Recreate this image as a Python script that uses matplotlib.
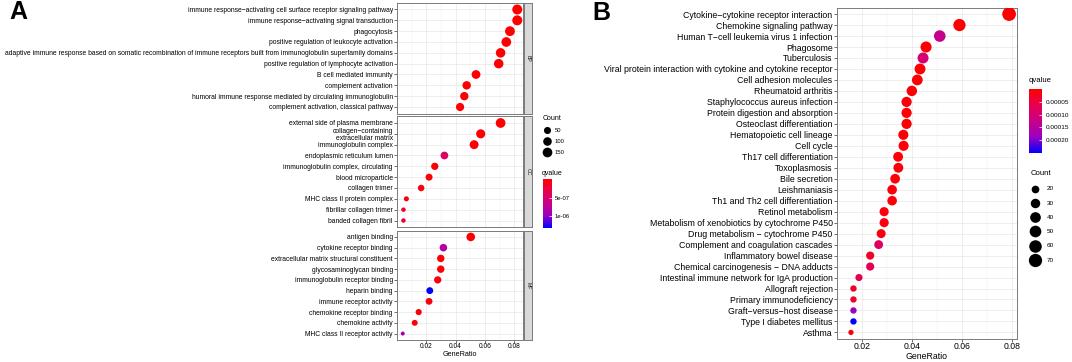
import numpy as np
import matplotlib
matplotlib.use('Agg')
import matplotlib.pyplot as plt
from matplotlib.colors import LinearSegmentedColormap, Normalize
from matplotlib.cm import ScalarMappable

plt.rcParams['font.family'] = ['Liberation Sans', 'DejaVu Sans']

# ---- Panel A: GO enrichment (BP / CC / MF) ----
bp_terms = ['immune response−activating cell surface receptor signaling pathway',
            'immune response−activating signal transduction',
            'phagocytosis',
            'positive regulation of leukocyte activation',
            'adaptive immune response based on somatic recombination of immune receptors built from immunoglobulin superfamily domains',
            'positive regulation of lymphocyte activation',
            'B cell mediated immunity',
            'complement activation',
            'humoral immune response mediated by circulating immunoglobulin',
            'complement activation, classical pathway']
bp_ratio = [0.0821, 0.0821, 0.0771, 0.0746, 0.0707, 0.0694, 0.0539, 0.0475, 0.0459, 0.0430]
bp_count = [165, 165, 155, 150, 142, 140, 108, 95, 92, 86]
bp_q = [1e-12, 1e-12, 2e-11, 5e-10, 3e-10, 4e-9, 8e-10, 1e-8, 3e-8, 2e-8]

cc_terms = ['external side of plasma membrane',
            'collagen−containing\nextracellular matrix',
            'immunoglobulin complex',
            'endoplasmic reticulum lumen',
            'immunoglobulin complex, circulating',
            'blood microparticle',
            'collagen trimer',
            'MHC class II protein complex',
            'fibrillar collagen trimer',
            'banded collagen fibril']
cc_ratio = [0.0707, 0.0571, 0.0526, 0.0323, 0.0257, 0.0218, 0.0164, 0.0063, 0.0043, 0.0043]
cc_count = [151, 122, 113, 69, 55, 47, 35, 13, 9, 9]
cc_q = [1e-10, 5e-9, 2e-8, 4.5e-7, 3e-8, 2e-8, 4e-8, 8e-8, 1.5e-7, 2e-7]

mf_terms = ['antigen binding',
            'cytokine receptor binding',
            'extracellular matrix structural constituent',
            'glycosaminoglycan binding',
            'immunoglobulin receptor binding',
            'heparin binding',
            'immune receptor activity',
            'chemokine receptor binding',
            'chemokine activity',
            'MHC class II receptor activity']
mf_ratio = [0.0503, 0.0316, 0.0298, 0.0298, 0.0277, 0.0223, 0.0218, 0.0147, 0.0120, 0.0038]
mf_count = [100, 63, 59, 59, 55, 44, 43, 29, 24, 8]
mf_q = [1e-10, 8e-7, 3e-8, 3e-8, 6e-8, 1.31e-6, 5e-8, 4e-8, 4e-8, 9.2e-7]

a_count_breaks = [50, 100, 150]
a_q_breaks = [5e-07, 1e-06]
a_q_labels = ['5e-07', '1e-06']

# ---- Panel B: KEGG enrichment ----
kegg_terms = ['Cytokine−cytokine receptor interaction',
              'Chemokine signaling pathway',
              'Human T−cell leukemia virus 1 infection',
              'Phagosome',
              'Tuberculosis',
              'Viral protein interaction with cytokine and cytokine receptor',
              'Cell adhesion molecules',
              'Rheumatoid arthritis',
              'Staphylococcus aureus infection',
              'Protein digestion and absorption',
              'Osteoclast differentiation',
              'Hematopoietic cell lineage',
              'Cell cycle',
              'Th17 cell differentiation',
              'Toxoplasmosis',
              'Bile secretion',
              'Leishmaniasis',
              'Th1 and Th2 cell differentiation',
              'Retinol metabolism',
              'Metabolism of xenobiotics by cytochrome P450',
              'Drug metabolism − cytochrome P450',
              'Complement and coagulation cascades',
              'Inflammatory bowel disease',
              'Chemical carcinogenesis − DNA adducts',
              'Intestinal immune network for IgA production',
              'Allograft rejection',
              'Primary immunodeficiency',
              'Graft−versus−host disease',
              'Type I diabetes mellitus',
              'Asthma']
kegg_ratio = [0.0790, 0.0591, 0.0512, 0.0457, 0.0445, 0.0433, 0.0422, 0.0400, 0.0379, 0.0379,
              0.0379, 0.0366, 0.0367, 0.0345, 0.0346, 0.0333, 0.0321, 0.0321, 0.0289, 0.0289,
              0.0277, 0.0267, 0.0233, 0.0233, 0.0188, 0.0166, 0.0166, 0.0166, 0.0166, 0.0156]
kegg_count = [76, 57, 49, 44, 43, 42, 41, 38, 36, 36,
              36, 35, 35, 33, 33, 32, 31, 31, 28, 28,
              27, 26, 22, 22, 18, 16, 16, 16, 16, 15]
kegg_q = [1e-12, 1e-9, 0.00013, 2e-6, 0.0001, 1e-6, 5e-6, 4e-6, 8e-6, 3e-6,
          2e-6, 5e-6, 6e-6, 3e-6, 7e-6, 5e-6, 8e-6, 6e-6, 9e-6, 1e-5,
          1.2e-5, 8e-5, 3e-5, 6.5e-5, 6e-5, 3e-5, 3.5e-5, 0.00018, 0.00025, 1e-5]
b_count_breaks = [20, 30, 40, 50, 60, 70]
b_q_breaks = [0.00005, 0.00010, 0.00015, 0.00020]
b_q_labels = ['0.00005', '0.00010', '0.00015', '0.00020']

W, H = 1072, 362
fig = plt.figure(figsize=(W / 100, H / 100), dpi=100)


def box(x0, y0, x1, y1):
    # pixel box (top-left origin) -> figure fraction rect
    return [x0 / W, 1 - y1 / H, (x1 - x0) / W, (y1 - y0) / H]


# red -> blue through Lab-like midtones (ggplot style)
cmap = LinearSegmentedColormap.from_list('rb', ['#FF0000', '#E7004F', '#C80088', '#9900C2', '#0000FF'])


def dot_size(c, cmin, cmax, dmin, dmax):
    c = np.asarray(c, dtype=float)
    d = dmin + np.sqrt(np.clip((c - cmin) / (cmax - cmin), 0, None)) * (dmax - dmin)
    return (d * 0.72) ** 2


def expand(vals):
    lo, hi = min(vals), max(vals)
    pad = (hi - lo) * 0.05
    return lo - pad, hi + pad


def dot_panel(ax, terms, ratio, count, q, norm, sizes, xlim, fs, tick_len):
    y = np.arange(1, len(terms) + 1)
    ax.set_axisbelow(True)
    ax.scatter(ratio, y, s=sizes, c=q, cmap=cmap, norm=norm, linewidths=0, zorder=3)
    ax.set_xlim(xlim)
    ax.set_ylim(len(terms) + 0.6, 0.4)
    ax.set_yticks(y)
    ax.set_yticklabels(terms, fontsize=fs, linespacing=0.95)
    ax.set_xticks([0.02, 0.04, 0.06, 0.08])
    ax.set_xticks([0.01, 0.03, 0.05, 0.07], minor=True)
    ax.grid(True, which='major', color='#EBEBEB', linewidth=0.6)
    ax.grid(True, which='minor', axis='x', color='#F2F2F2', linewidth=0.35)
    ax.tick_params(axis='both', which='major', length=tick_len, width=0.5, color='#333333', pad=1)
    ax.tick_params(axis='x', which='minor', length=0)
    for sp in ax.spines.values():
        sp.set_color('#7A7A7A')
        sp.set_linewidth(0.7)


# ---------------- Panel A ----------------
a_all_ratio = bp_ratio + cc_ratio + mf_ratio
a_all_count = bp_count + cc_count + mf_count
a_all_q = bp_q + cc_q + mf_q
a_xlim = expand(a_all_ratio)
a_norm = Normalize(vmin=0, vmax=max(a_all_q))
a_cmin, a_cmax = min(a_all_count), max(a_all_count)

a_panels = [('BP', bp_terms, bp_ratio, bp_count, bp_q, 3, 113.5),
            ('CC', cc_terms, cc_ratio, cc_count, cc_q, 116.5, 227),
            ('MF', mf_terms, mf_ratio, mf_count, mf_q, 230.5, 340)]
for name, terms, ratio, count, q, y0, y1 in a_panels:
    ax = fig.add_axes(box(397, y0, 523, y1))
    dot_panel(ax, terms, ratio, count, q, a_norm,
              dot_size(count, a_cmin, a_cmax, 4.0, 10.0), a_xlim, 4.85, 2)
    if name != 'MF':
        ax.tick_params(axis='x', labelbottom=False, length=0)
    else:
        ax.tick_params(axis='x', labelsize=4.8, pad=0.5)
        ax.set_xlabel('GeneRatio', fontsize=5.2, labelpad=0.5)
    sax = fig.add_axes(box(524, y0, 532, y1))
    sax.set_facecolor('#D9D9D9')
    sax.set_xticks([])
    sax.set_yticks([])
    for sp in sax.spines.values():
        sp.set_color('#7A7A7A')
        sp.set_linewidth(0.7)
    sax.text(0.5, 0.5, name, rotation=270, ha='center', va='center', fontsize=3.8, color='#1A1A1A',
             transform=sax.transAxes)

fig.text(9 / W, 1 - 12 / H, 'A', fontsize=18, fontweight='bold', va='center', ha='left')

# Count legend A
a_handles = [plt.scatter([], [], s=dot_size(c, a_cmin, a_cmax, 4.0, 10.0), color='black', linewidths=0)
             for c in a_count_breaks]
leg_a = fig.legend(a_handles, [str(c) for c in a_count_breaks], title='Count', loc='upper left',
                   bbox_to_anchor=(540 / W, 1 - 112 / H), frameon=False, fontsize=4.2,
                   title_fontsize=5, alignment='left', borderpad=0, labelspacing=1.0,
                   handletextpad=0.6, handlelength=1.4)

# qvalue colorbar A
fig.text(542 / W, 1 - 173 / H, 'qvalue', fontsize=5, va='center', ha='left')
cax_a = fig.add_axes(box(543, 179, 552, 228))
cb_a = fig.colorbar(ScalarMappable(norm=a_norm, cmap=cmap), cax=cax_a)
cb_a.outline.set_visible(False)
cax_a.invert_yaxis()
cb_a.set_ticks(a_q_breaks)
cb_a.set_ticklabels(a_q_labels)
cax_a.tick_params(length=2, width=0.5, color='white', direction='in', labelsize=4.2, pad=2)

# ---------------- Panel B ----------------
b_xlim = expand(kegg_ratio)
b_norm = Normalize(vmin=0, vmax=max(kegg_q))
b_cmin, b_cmax = min(kegg_count), max(kegg_count)

ax_b = fig.add_axes(box(837, 7.5, 1017, 339))
dot_panel(ax_b, kegg_terms, kegg_ratio, kegg_count, kegg_q, b_norm,
          dot_size(kegg_count, b_cmin, b_cmax, 5.3, 13.7), b_xlim, 6.35, 2.2)
ax_b.tick_params(axis='x', labelsize=6.2, pad=0.3)
ax_b.set_xlabel('GeneRatio', fontsize=6.3, labelpad=0.3)

fig.text(592 / W, 1 - 13 / H, 'B', fontsize=18, fontweight='bold', va='center', ha='left')

# qvalue colorbar B
fig.text(1029 / W, 1 - 80 / H, 'qvalue', fontsize=5.6, va='center', ha='left')
cax_b = fig.add_axes(box(1029, 89, 1042, 153))
cb_b = fig.colorbar(ScalarMappable(norm=b_norm, cmap=cmap), cax=cax_b)
cb_b.outline.set_visible(False)
cax_b.invert_yaxis()
cb_b.set_ticks(b_q_breaks)
cb_b.set_ticklabels(b_q_labels)
cax_b.tick_params(length=2.5, width=0.5, color='white', direction='in', labelsize=4.6, pad=3)

# Count legend B
b_handles = [plt.scatter([], [], s=dot_size(c, b_cmin, b_cmax, 5.3, 13.7), color='black', linewidths=0)
             for c in b_count_breaks]
leg_b = fig.legend(b_handles, [str(c) for c in b_count_breaks], title='Count', loc='upper left',
                   bbox_to_anchor=(1027 / W, 1 - 167 / H), frameon=False, fontsize=4.6,
                   title_fontsize=5.6, alignment='left', borderpad=0, labelspacing=1.37,
                   handletextpad=1.0, handlelength=1.6)

fig.savefig('out.png', dpi=100)
